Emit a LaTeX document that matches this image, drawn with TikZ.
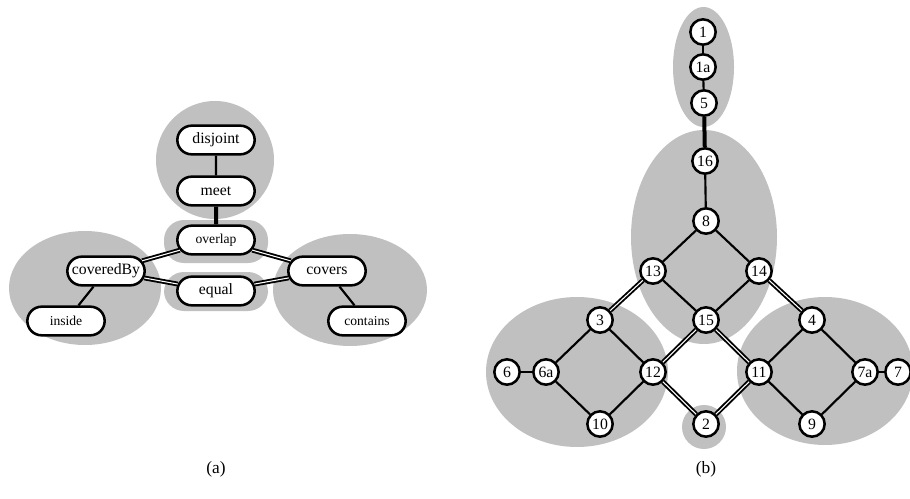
\documentclass[tikz,border=0pt]{standalone}
\usepackage{fontspec}
\setmainfont{Liberation Serif}
\usetikzlibrary{positioning,shapes.misc}
\definecolor{regiongray}{RGB}{192,192,192}

\begin{document}
\begin{tikzpicture}[x=0.75pt,y=-0.75pt,
  relbox/.style={draw,line width=1.9pt,fill=white,rounded rectangle,minimum width=60pt,minimum height=21.5pt,inner sep=1pt,font=\fontsize{11.8}{13}\selectfont},
  smallbox/.style={relbox,font=\fontsize{10.2}{11}\selectfont},
  cellnode/.style={draw,circle,line width=1.9pt,fill=white,minimum size=19pt,inner sep=0pt,font=\fontsize{11.8}{12}\selectfont},
  link/.style={line width=1.6pt},
  heavylink/.style={line width=3pt},
  dbllink/.style={double,line width=1.4pt,double distance=0.8pt},
  region/.style={fill=regiongray}]
\useasboundingbox (0,0) rectangle (910,499);
%%%%% (a)
% draw gray regions
\fill[region] (215,160) circle (59);
\fill[region,rounded corners=15] (164,220) rectangle (268,263);
\fill[region,rounded corners=15] (164,272) rectangle (268,311);
\fill[region] (85,288) ellipse (76 and 57);
\fill[region] (350,290) ellipse (77 and 56);
% draw relations
\node[relbox] (disjoint) at (216,140) {disjoint};
\node[relbox] (meet) at (216,191) {meet};
\node[smallbox] (overlap) at (216,240) {overlap};
\node[relbox] (equal) at (216,291) {equal};
\node[relbox] (coveredby) at (106,271) {coveredBy};
\node[relbox] (covers) at (327,271) {covers};
\node[smallbox] (inside) at (66,321) {inside};
\node[smallbox] (contains) at (367,321) {contains};
% draw links
\draw[link] (disjoint) -- (meet);
\draw[heavylink] (meet) -- (overlap);
\draw[dbllink] (overlap) -- (coveredby);
\draw[dbllink] (overlap) -- (covers);
\draw[dbllink] (coveredby) -- (equal);
\draw[dbllink] (equal) -- (covers);
\draw[link] (coveredby) -- (inside);
\draw[link] (covers) -- (contains);
\node (labela) at (216,469) {\fontsize{13}{15}\selectfont(a)};
%%%%% (b)
% draw gray regions
\fill[region] (703.5,67) ellipse (30.5 and 60);
\fill[region] (704,237) ellipse (73 and 107);
\fill[region] (577,372) ellipse (91 and 75);
\fill[region] (825,371) ellipse (88 and 74);
\fill[region] (704,427) circle (22);
% draw cells
\node[cellnode] (c1) at (703,32) {1};
\node[cellnode] (c1a) at (703,67) {1a};
\node[cellnode] (c5) at (704,103) {5};
\node[cellnode] (c16) at (705,161) {16};
\node[cellnode] (c8) at (706,221) {8};
\node[cellnode] (c13) at (653,271) {13};
\node[cellnode] (c14) at (759,271) {14};
\node[cellnode] (c3) at (600,320) {3};
\node[cellnode] (c15) at (706,320) {15};
\node[cellnode] (c4) at (812,320) {4};
\node[cellnode] (c6) at (507,372) {6};
\node[cellnode] (c6a) at (546,372) {6a};
\node[cellnode] (c12) at (653,372) {12};
\node[cellnode] (c11) at (759,372) {11};
\node[cellnode] (c7a) at (865,372) {7a};
\node[cellnode] (c7) at (898,372) {7};
\node[cellnode] (c10) at (600,424) {10};
\node[cellnode] (c2) at (706,424) {2};
\node[cellnode] (c9) at (812,424) {9};
% draw links
\draw[link] (c1) -- (c1a);
\draw[link] (c1a) -- (c5);
\draw[heavylink] (c5) -- (c16);
\draw[link] (c16) -- (c8);
\draw[link] (c8) -- (c13);
\draw[link] (c8) -- (c14);
\draw[dbllink] (c13) -- (c3);
\draw[link] (c13) -- (c15);
\draw[link] (c14) -- (c15);
\draw[dbllink] (c14) -- (c4);
\draw[link] (c3) -- (c6a);
\draw[link] (c3) -- (c12);
\draw[dbllink] (c15) -- (c12);
\draw[dbllink] (c15) -- (c11);
\draw[link] (c4) -- (c11);
\draw[link] (c4) -- (c7a);
\draw[link] (c6) -- (c6a);
\draw[link] (c6a) -- (c10);
\draw[link] (c12) -- (c10);
\draw[dbllink] (c12) -- (c2);
\draw[dbllink] (c11) -- (c2);
\draw[link] (c11) -- (c9);
\draw[link] (c7a) -- (c9);
\draw[link] (c7a) -- (c7);
\node (labelb) at (706,469) {\fontsize{13}{15}\selectfont(b)};
\end{tikzpicture}
\end{document}
